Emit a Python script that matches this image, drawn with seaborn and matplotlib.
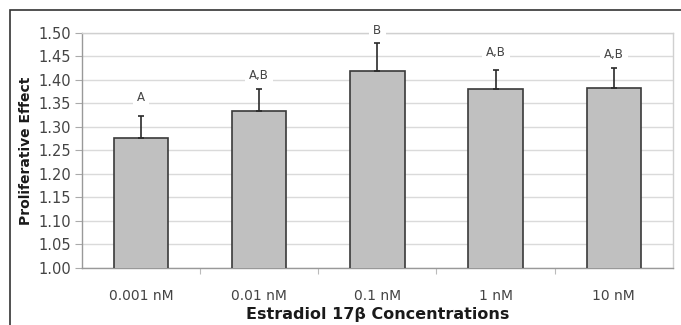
import matplotlib
matplotlib.use("Agg")
import matplotlib.pyplot as plt
import seaborn as sns
import pandas as pd
from matplotlib.patches import Rectangle

categories = ["0.001 nM", "0.01 nM", "0.1 nM", "1 nM", "10 nM"]
means = [1.276, 1.333, 1.420, 1.380, 1.382]
errors = [0.048, 0.048, 0.058, 0.041, 0.044]
letters = ["A", "A,B", "B", "A,B", "A,B"]
letter_y = [1.363, 1.410, 1.506, 1.458, 1.455]
yticks = [1.00, 1.05, 1.10, 1.15, 1.20, 1.25, 1.30, 1.35, 1.40, 1.45, 1.50]

sns.set_style("white")
plt.rcParams['font.family'] = ['DejaVu Sans']

df = pd.DataFrame({"conc": categories, "effect": means})

fig = plt.figure(figsize=(6.81, 3.25), dpi=100)
ax = fig.add_axes([0.1204, 0.1754, 0.8676, 0.7231])

sns.barplot(data=df, x="conc", y="effect", ax=ax, color="#c0c0c0",
            edgecolor="#3a3a3a", linewidth=1.2, width=0.46, saturation=1,
            errorbar=None, zorder=3)

xs = list(range(len(categories)))
ax.errorbar(xs, means, yerr=[[0] * len(errors), errors], fmt="none",
            ecolor="#2a2a2a", elinewidth=1.2, capsize=2, capthick=1.2, zorder=4)

for x, t, ly in zip(xs, letters, letter_y):
    ax.text(x, ly, t, ha="center", va="center", fontsize=8.5, color="#444444",
            bbox=dict(facecolor="white", edgecolor="none", pad=3), zorder=5,
            clip_on=False)

ax.set_ylim(1.0, 1.5)
ax.set_xlim(-0.5, 4.5)
ax.set_yticks(yticks)
ax.set_yticklabels([f"{v:.2f}" for v in yticks], fontsize=10.5, color="#444444")
ax.set_xticks(xs)
ax.set_xticklabels(categories, fontsize=10, color="#444444")
ax.tick_params(axis="x", length=0, pad=15)
ax.tick_params(axis="y", left=True, length=5, width=0.8, color="#aaaaaa", pad=3)
# minor ticks at category boundaries
ax.set_xticks([0.5, 1.5, 2.5, 3.5], minor=True)
ax.tick_params(axis="x", which="minor", bottom=True, length=4, width=0.8, color="#bbbbbb")

ax.yaxis.grid(True, color="#dadada", linewidth=1.0, zorder=0)
ax.set_axisbelow(True)
for side in ["left", "right", "top", "bottom"]:
    ax.spines[side].set_visible(True)
    ax.spines[side].set_color("#d0d0d0")
    ax.spines[side].set_linewidth(1.0)
ax.spines["left"].set_color("#999999")
ax.spines["bottom"].set_color("#999999")

ax.set_xlabel("Estradiol 17β Concentrations", fontsize=11.5, fontweight="bold",
              color="#1a1a1a", labelpad=3)
ax.set_ylabel("Proliferative Effect", fontsize=10, fontweight="bold",
              color="#1a1a1a", labelpad=4)

# outer frame
fig.add_artist(Rectangle((10 / 681, -0.1), 1.2, (1 - 10 / 325) + 0.1,
                         transform=fig.transFigure, fill=False,
                         edgecolor="#333333", linewidth=1.2))

fig.savefig("out.png", dpi=100)
